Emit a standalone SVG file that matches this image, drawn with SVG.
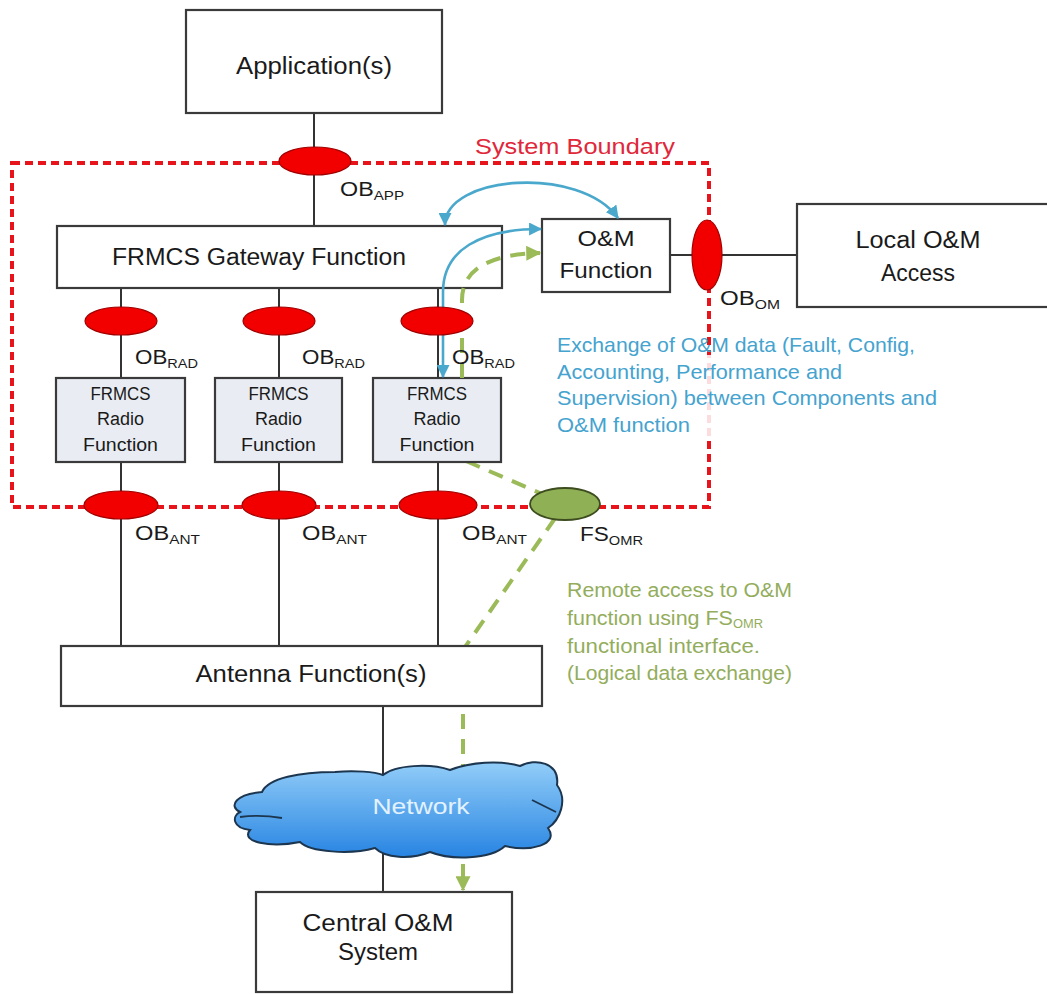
<svg xmlns="http://www.w3.org/2000/svg" width="1047" height="994" viewBox="0 0 1047 994">
<style>
  .box { fill: #ffffff; stroke: #3a3a3a; stroke-width: 2.2; }
  .rbox { fill: #e9edf3; stroke: #3a3a3a; stroke-width: 2.2; }
  .t { font-family: "Liberation Sans", Arial, sans-serif; fill: #1a1a1a; }
  .ln { stroke: #333333; stroke-width: 2; fill: none; }
  .ob { fill: #f20000; stroke: #a00000; stroke-width: 1.2; }
  .blue { stroke: #4aa8cc; stroke-width: 2.6; fill: none; }
  .green { stroke: #9bbb59; stroke-width: 4; fill: none; stroke-dasharray: 15 10; }
  .btxt { font-family: "Liberation Sans", Arial, sans-serif; fill: #45a3cf; font-size: 21px; }
  .gtxt { font-family: "Liberation Sans", Arial, sans-serif; fill: #93ad5c; font-size: 20px; }
</style>
<defs>
  <marker id="ab" viewBox="0 0 12 12" refX="11" refY="6" markerWidth="13" markerHeight="13" markerUnits="userSpaceOnUse" orient="auto-start-reverse">
    <path d="M0,0 L12,6 L0,12 Z" fill="#4aa8cc"/>
  </marker>
  <marker id="ag" viewBox="0 0 12 12" refX="11" refY="6" markerWidth="15" markerHeight="15" markerUnits="userSpaceOnUse" orient="auto-start-reverse">
    <path d="M0,0 L12,6 L0,12 Z" fill="#9bbb59"/>
  </marker>
  <linearGradient id="cloudGrad" x1="0" y1="0" x2="0" y2="1">
    <stop offset="0" stop-color="#92cdf8"/>
    <stop offset="1" stop-color="#2784e2"/>
  </linearGradient>
</defs>
<rect x="0" y="0" width="1047" height="994" fill="#ffffff"/>

<!-- connectors behind nodes -->
<g id="connectors">
  <line class="ln" x1="314" y1="113" x2="314" y2="226"/>
  <line class="ln" x1="121" y1="288" x2="121" y2="378"/>
  <line class="ln" x1="279" y1="288" x2="279" y2="378"/>
  <line class="ln" x1="438" y1="288" x2="438" y2="378"/>
  <line class="ln" x1="121" y1="462" x2="121" y2="646"/>
  <line class="ln" x1="279" y1="462" x2="279" y2="646"/>
  <line class="ln" x1="438" y1="462" x2="438" y2="646"/>
  <line class="ln" x1="383" y1="706" x2="383" y2="892"/>
  <line class="ln" x1="670" y1="255" x2="797" y2="255"/>
  <path class="green" d="M466,461 L565,504 L463,650 L463,890" marker-end="url(#ag)"/>
</g>

<!-- system boundary -->
<g id="system-boundary">
  <rect x="12" y="163" width="697" height="344" fill="none" stroke="#e8141c" stroke-width="4" stroke-dasharray="8 5"/>
  <text class="t" x="475" y="154" font-size="22" style="fill:#e0283a" textLength="200" lengthAdjust="spacingAndGlyphs">System Boundary</text>
</g>

<g id="application">
  <rect class="box" x="186" y="10" width="256" height="103"/>
  <text class="t" x="314" y="74" font-size="23" text-anchor="middle" textLength="156" lengthAdjust="spacingAndGlyphs">Application(s)</text>
</g>

<g id="gateway">
  <rect class="box" x="57" y="226" width="445" height="62"/>
  <text class="t" x="259" y="265" font-size="23" text-anchor="middle" textLength="294" lengthAdjust="spacingAndGlyphs">FRMCS Gateway Function</text>
</g>

<g id="om-function">
  <rect class="box" x="542" y="219" width="128" height="73"/>
  <text class="t" x="606" y="246" font-size="22" text-anchor="middle" textLength="57" lengthAdjust="spacingAndGlyphs">O&amp;M</text>
  <text class="t" x="606" y="278" font-size="22" text-anchor="middle" textLength="93" lengthAdjust="spacingAndGlyphs">Function</text>
</g>

<g id="local-om-access">
  <rect class="box" x="797" y="204" width="270" height="103"/>
  <text class="t" x="918" y="248" font-size="23" text-anchor="middle" textLength="125" lengthAdjust="spacingAndGlyphs">Local O&amp;M</text>
  <text class="t" x="918" y="281" font-size="23" text-anchor="middle" textLength="74" lengthAdjust="spacingAndGlyphs">Access</text>
</g>

<g id="radio-1">
  <rect class="rbox" x="56" y="378" width="129" height="84"/>
  <text class="t" x="120.5" y="400" font-size="18" text-anchor="middle" textLength="60" lengthAdjust="spacingAndGlyphs">FRMCS</text>
  <text class="t" x="120.5" y="425" font-size="18" text-anchor="middle" textLength="47" lengthAdjust="spacingAndGlyphs">Radio</text>
  <text class="t" x="120.5" y="451" font-size="18" text-anchor="middle" textLength="75" lengthAdjust="spacingAndGlyphs">Function</text>
</g>
<g id="radio-2">
  <rect class="rbox" x="215" y="378" width="127" height="84"/>
  <text class="t" x="278.5" y="400" font-size="18" text-anchor="middle" textLength="60" lengthAdjust="spacingAndGlyphs">FRMCS</text>
  <text class="t" x="278.5" y="425" font-size="18" text-anchor="middle" textLength="47" lengthAdjust="spacingAndGlyphs">Radio</text>
  <text class="t" x="278.5" y="451" font-size="18" text-anchor="middle" textLength="75" lengthAdjust="spacingAndGlyphs">Function</text>
</g>
<g id="radio-3">
  <rect class="rbox" x="373" y="378" width="128" height="84"/>
  <text class="t" x="437" y="400" font-size="18" text-anchor="middle" textLength="60" lengthAdjust="spacingAndGlyphs">FRMCS</text>
  <text class="t" x="437" y="425" font-size="18" text-anchor="middle" textLength="47" lengthAdjust="spacingAndGlyphs">Radio</text>
  <text class="t" x="437" y="451" font-size="18" text-anchor="middle" textLength="75" lengthAdjust="spacingAndGlyphs">Function</text>
</g>

<g id="antenna">
  <rect class="box" x="61" y="646" width="481" height="60"/>
  <text class="t" x="311" y="682" font-size="23" text-anchor="middle" textLength="231" lengthAdjust="spacingAndGlyphs">Antenna Function(s)</text>
</g>

<g id="network">
  <path d="M240,812 C228,806 236,794 262,792 C268,778 300,772 335,772 C355,770 375,772 383,775 C395,765 430,763 450,770 C470,762 500,760 520,766 C535,758 560,762 557,785 C568,800 560,820 548,828 C560,845 530,852 505,846 C490,860 450,860 430,852 C410,860 385,858 375,848 C350,855 310,852 300,842 C270,848 240,842 250,830 C232,828 232,816 240,812 Z" fill="url(#cloudGrad)" stroke="#1d3650" stroke-width="2"/>
  <path d="M240,817 C255,815 270,816 282,818" fill="none" stroke="#1d3650" stroke-width="1.8"/>
  <path d="M556,812 C548,808 540,804 532,800" fill="none" stroke="#1d3650" stroke-width="1.8"/>
  <text class="t" x="421" y="814" font-size="22" text-anchor="middle" style="fill:#e3f2ff" textLength="97" lengthAdjust="spacingAndGlyphs">Network</text>
</g>

<g id="central-om">
  <rect class="box" x="256" y="892" width="256" height="100"/>
  <text class="t" x="378" y="931" font-size="23" text-anchor="middle" textLength="151" lengthAdjust="spacingAndGlyphs">Central O&amp;M</text>
  <text class="t" x="378" y="960" font-size="23" text-anchor="middle" textLength="80" lengthAdjust="spacingAndGlyphs">System</text>
</g>

<!-- connectors drawn over boxes -->
<g id="connectors-front">
  <path class="blue" d="M445,225 C445,175 580,165 618,218" marker-start="url(#ab)" marker-end="url(#ab)"/>
  <path class="blue" d="M443,377 L443,292 C443,250 480,229 541,229" marker-start="url(#ab)" marker-end="url(#ab)"/>
  <path class="green" d="M462,378 L462,300 C462,268 492,254 540,253" marker-end="url(#ag)"/>
</g>

<!-- interfaces -->
<g id="ob-app">
  <ellipse class="ob" cx="315" cy="161" rx="36" ry="14"/>
  <text class="t" x="340" y="196" font-size="20" textLength="64" lengthAdjust="spacingAndGlyphs">OB<tspan font-size="13" dy="4">APP</tspan></text>
</g>
<g id="ob-rad-1">
  <ellipse class="ob" cx="121" cy="321" rx="36" ry="14"/>
  <text class="t" x="135" y="364" font-size="20" textLength="63" lengthAdjust="spacingAndGlyphs">OB<tspan font-size="13" dy="4">RAD</tspan></text>
</g>
<g id="ob-rad-2">
  <ellipse class="ob" cx="279" cy="321" rx="36" ry="14"/>
  <text class="t" x="302" y="364" font-size="20" textLength="63" lengthAdjust="spacingAndGlyphs">OB<tspan font-size="13" dy="4">RAD</tspan></text>
</g>
<g id="ob-rad-3">
  <ellipse class="ob" cx="437" cy="321" rx="36" ry="14"/>
  <text class="t" x="452" y="364" font-size="20" textLength="63" lengthAdjust="spacingAndGlyphs">OB<tspan font-size="13" dy="4">RAD</tspan></text>
</g>
<g id="ob-ant-1">
  <ellipse class="ob" cx="121" cy="505" rx="37" ry="14"/>
  <text class="t" x="135" y="540" font-size="20" textLength="65" lengthAdjust="spacingAndGlyphs">OB<tspan font-size="13" dy="4">ANT</tspan></text>
</g>
<g id="ob-ant-2">
  <ellipse class="ob" cx="279" cy="505" rx="37" ry="14"/>
  <text class="t" x="302" y="540" font-size="20" textLength="65" lengthAdjust="spacingAndGlyphs">OB<tspan font-size="13" dy="4">ANT</tspan></text>
</g>
<g id="ob-ant-3">
  <ellipse class="ob" cx="438" cy="505" rx="39" ry="14"/>
  <text class="t" x="462" y="540" font-size="20" textLength="65" lengthAdjust="spacingAndGlyphs">OB<tspan font-size="13" dy="4">ANT</tspan></text>
</g>
<g id="ob-om">
  <ellipse class="ob" cx="707" cy="255" rx="15" ry="35"/>
  <text class="t" x="720" y="305" font-size="20" textLength="60" lengthAdjust="spacingAndGlyphs">OB<tspan font-size="13" dy="4">OM</tspan></text>
</g>
<g id="fs-omr">
  <ellipse cx="565" cy="504" rx="35" ry="16" fill="#8fb055" stroke="#3d4d1f" stroke-width="1.8"/>
  <text class="t" x="580" y="541" font-size="20" textLength="63" lengthAdjust="spacingAndGlyphs">FS<tspan font-size="13" dy="4">OMR</tspan></text>
</g>

<!-- annotations -->
<g id="note-exchange">
  <rect x="553" y="355" width="392" height="86" fill="#ffffff" opacity="0.85"/>
  <text class="btxt" x="557" y="352" textLength="358" lengthAdjust="spacingAndGlyphs">Exchange of O&amp;M data (Fault, Config,</text>
  <text class="btxt" x="557" y="379" textLength="285" lengthAdjust="spacingAndGlyphs">Accounting, Performance and</text>
  <text class="btxt" x="557" y="405" textLength="380" lengthAdjust="spacingAndGlyphs">Supervision) between Components and</text>
  <text class="btxt" x="557" y="432" textLength="133" lengthAdjust="spacingAndGlyphs">O&amp;M function</text>
</g>
<g id="note-remote">
  <text class="gtxt" x="567" y="597" textLength="225" lengthAdjust="spacingAndGlyphs">Remote access to O&amp;M</text>
  <text class="gtxt" x="567" y="625" textLength="196" lengthAdjust="spacingAndGlyphs">function using FS<tspan font-size="12" dy="3">OMR</tspan></text>
  <text class="gtxt" x="567" y="653" textLength="193" lengthAdjust="spacingAndGlyphs">functional interface.</text>
  <text class="gtxt" x="567" y="680" textLength="225" lengthAdjust="spacingAndGlyphs">(Logical data exchange)</text>
</g>
</svg>
